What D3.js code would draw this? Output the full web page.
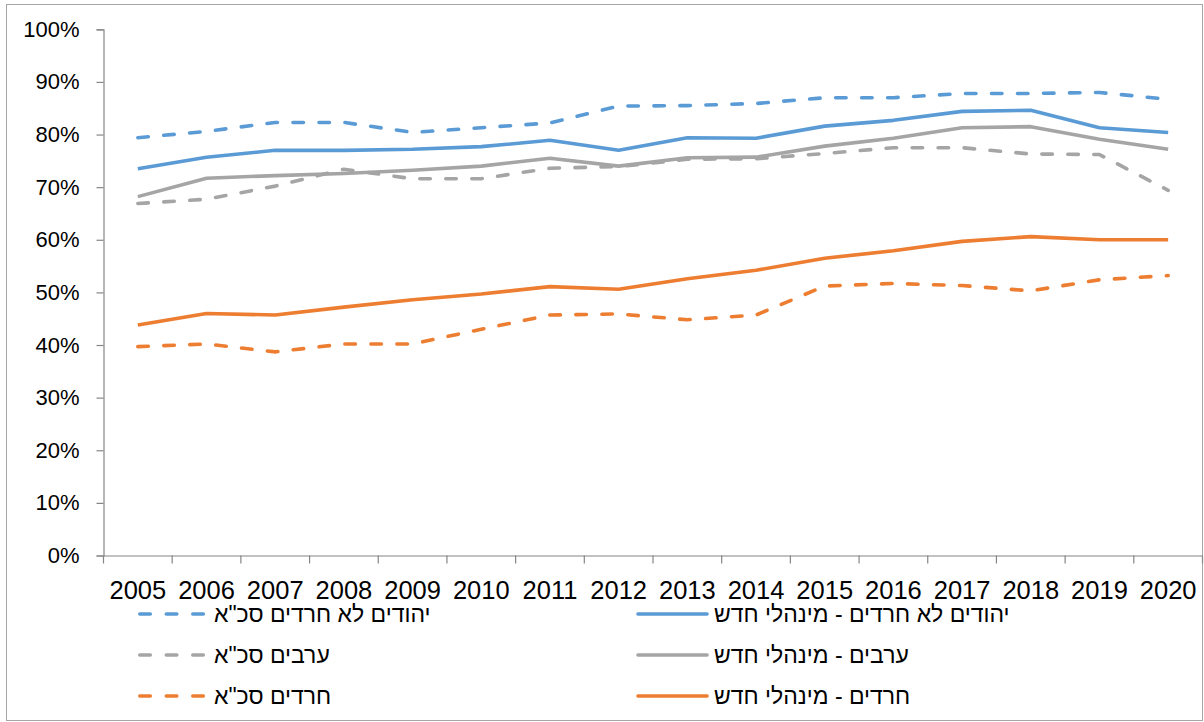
<!DOCTYPE html>
<html>
<head>
<meta charset="utf-8">
<script src="https://cdn.jsdelivr.net/npm/d3@7"></script>
<style>
  html, body { margin: 0; padding: 0; background: #fff; }
  svg { display: block; font-family: "Liberation Sans", Arial, sans-serif; }
</style>
</head>
<body>
<svg id="chart" width="1204" height="722"></svg>
<script>
const years = ["2005","2006","2007","2008","2009","2010","2011","2012","2013","2014","2015","2016","2017","2018","2019","2020"];
const yTicks = [0, 0.1, 0.2, 0.3, 0.4, 0.5, 0.6, 0.7, 0.8, 0.9, 1.0];

const seriesNames = [
  'יהודים לא חרדים סכ"א',
  'יהודים לא חרדים - מינהלי חדש',
  'ערבים סכ"א',
  'ערבים - מינהלי חדש',
  'חרדים סכ"א',
  'חרדים - מינהלי חדש'
];
const seriesColors = ["#5B9BD5", "#5B9BD5", "#A5A5A5", "#A5A5A5", "#ED7D31", "#ED7D31"];
const seriesDashed = [true, false, true, false, true, false];

const jewsTotal    = [79.4, 80.6, 82.3, 82.3, 80.4, 81.3, 82.2, 85.4, 85.5, 85.9, 87.0, 87.0, 87.8, 87.8, 88.0, 86.7];
const jewsNew      = [73.5, 75.7, 77.0, 77.0, 77.2, 77.7, 78.9, 77.0, 79.4, 79.3, 81.6, 82.7, 84.4, 84.6, 81.3, 80.4];
const arabsTotal   = [66.9, 67.7, 70.2, 73.4, 71.6, 71.6, 73.6, 73.9, 75.3, 75.4, 76.4, 77.5, 77.5, 76.3, 76.2, 69.4];
const arabsNew     = [68.2, 71.7, 72.2, 72.6, 73.2, 74.0, 75.5, 74.0, 75.6, 75.7, 77.8, 79.3, 81.3, 81.5, 79.1, 77.2];
const haredimTotal = [39.7, 40.2, 38.7, 40.2, 40.2, 43.0, 45.7, 45.9, 44.8, 45.7, 51.2, 51.7, 51.3, 50.3, 52.4, 53.2];
const haredimNew   = [43.8, 46.0, 45.7, 47.2, 48.6, 49.7, 51.1, 50.6, 52.6, 54.2, 56.5, 57.9, 59.7, 60.6, 60.0, 60.0];

const seriesValues = [jewsTotal, jewsNew, arabsTotal, arabsNew, haredimTotal, haredimNew];

const svg = d3.select("#chart");

// outer border
svg.append("rect")
  .attr("x", 6.5).attr("y", 4.5)
  .attr("width", 1196).attr("height", 716)
  .attr("fill", "none").attr("stroke", "#A6A6A6").attr("stroke-width", 1);

const x = d3.scaleBand().domain(years).range([103.5, 1202.5]).padding(0);
const y = d3.scaleLinear().domain([0, 1]).range([555.5, 29.3]);

const axisColor = "#868686";

// Y axis
const yAxis = d3.axisLeft(y).tickValues(yTicks).tickFormat(d3.format(".0%")).tickSize(7).tickPadding(17);
const gy = svg.append("g").attr("transform", "translate(103.5,0)").call(yAxis);
gy.select(".domain").attr("stroke", axisColor).attr("stroke-width", 1.2);
gy.selectAll(".tick line").attr("stroke", axisColor).attr("stroke-width", 1.2);
gy.selectAll(".tick text").attr("fill", "#000").style("font-size", "22px")
  .style("font-family", '"Liberation Sans", Arial, sans-serif');

// X axis
const xAxis = d3.axisBottom(x).tickSize(0).tickPadding(0);
const gx = svg.append("g").attr("transform", "translate(0,555.5)").call(xAxis);
gx.select(".domain").attr("stroke", axisColor).attr("stroke-width", 1.2);
gx.selectAll(".tick text").attr("fill", "#000").attr("dy", null).attr("y", 43)
  .style("font-size", "25.5px")
  .style("font-family", '"Liberation Sans", Arial, sans-serif');
// boundary tick marks between categories
const boundaries = years.map(d => x(d)).concat([x(years[years.length - 1]) + x.bandwidth()]);
gx.selectAll("line.bound").data(boundaries).enter().append("line")
  .attr("class", "bound")
  .attr("x1", d => d).attr("x2", d => d)
  .attr("y1", 0).attr("y2", 8)
  .attr("stroke", axisColor).attr("stroke-width", 1.2);

// Lines
const line = d3.line()
  .x((d, i) => x(years[i]) + x.bandwidth() / 2)
  .y(d => y(d / 100));

const dashArr = "10.5,15.5";

seriesValues.forEach((vals, k) => {
  svg.append("path")
    .datum(vals)
    .attr("d", line)
    .attr("fill", "none")
    .attr("stroke", seriesColors[k])
    .attr("stroke-width", 3.6)
    .attr("stroke-linejoin", "round")
    .attr("stroke-linecap", seriesDashed[k] ? "round" : "butt")
    .attr("stroke-dasharray", seriesDashed[k] ? dashArr : null);
});

// Legend
const legendCols = [138, 638];
const legendRows = [614, 655, 696];
const legend = svg.append("g");
seriesNames.forEach((name, k) => {
  const col = k % 2;
  const row = Math.floor(k / 2);
  const lx = legendCols[col];
  const ly = legendRows[row];
  const g = legend.append("g");
  g.append("line")
    .attr("x1", lx + (seriesDashed[k] ? 1.8 : 0)).attr("x2", lx + 69)
    .attr("y1", ly).attr("y2", ly)
    .attr("stroke", seriesColors[k])
    .attr("stroke-width", 3.6)
    .attr("stroke-linecap", "round")
    .attr("stroke-dasharray", seriesDashed[k] ? "10.5,16" : null);
  g.append("text")
    .attr("x", lx + 76)
    .attr("y", ly)
    .attr("dy", "0.35em")
    .attr("text-anchor", "start")
    .style("font-size", "23px")
    .style("font-family", '"Liberation Sans", Arial, sans-serif')
    .attr("fill", "#000")
    .text(name);
});
</script>
</body>
</html>
